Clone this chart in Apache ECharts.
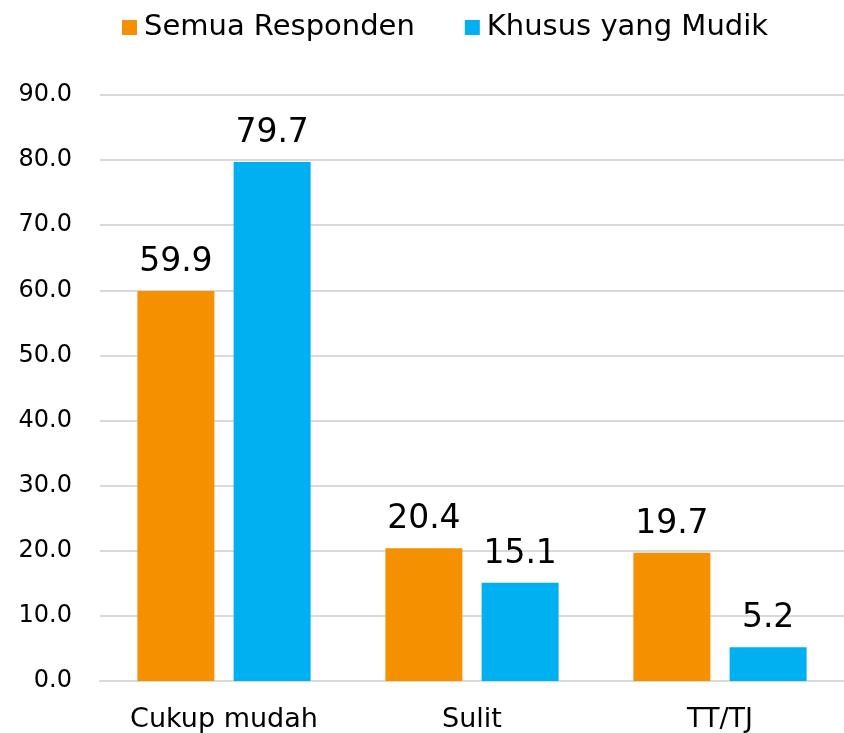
<!DOCTYPE html>
<html>
<head>
<meta charset="utf-8">
<script src="https://cdn.jsdelivr.net/npm/echarts@6/dist/echarts.min.js"></script>
<style>
  html, body { margin: 0; padding: 0; background: #fff; }
  #main { width: 844px; height: 733px; }
</style>
</head>
<body>
<div id="main"></div>
<script>
// data
var categories = ['Cukup mudah', 'Sulit', 'TT/TJ'];
var seriesNames = ['Semua Responden', 'Khusus yang Mudik'];
var semuaResponden = [59.9, 20.4, 19.7];
var khususMudik = [79.7, 15.1, 5.2];

var fontName = '"Century Gothic", "URW Gothic", "DejaVu Sans", sans-serif';

function showBar() {
	var myChart = echarts.init(document.getElementById('main'));
	var option = {
		animation: false,
		textStyle: { fontFamily: fontName },
		legend: {
			data: seriesNames,
			top: 8,
			left: 117,
			itemWidth: 15,
			itemHeight: 15,
			itemGap: 50,
			icon: 'rect',
			textStyle: {
				fontFamily: fontName,
				fontSize: 29,
				color: '#000',
				padding: [0, 0, 0, 2]
			}
		},
		grid: {
			left: 100,
			right: -6,
			top: 95,
			bottom: 52
		},
		xAxis: {
			type: 'category',
			data: categories,
			axisTick: { show: false },
			axisLine: { lineStyle: { color: '#d9d9d9', width: 2 } },
			axisLabel: {
				fontFamily: fontName,
				fontSize: 27,
				color: '#000',
				margin: 25
			}
		},
		yAxis: {
			type: 'value',
			min: 0,
			max: 90,
			interval: 10,
			axisLine: { show: false },
			axisTick: { show: false },
			splitLine: { lineStyle: { color: '#d9d9d9', width: 2 } },
			axisLabel: {
				fontFamily: fontName,
				fontSize: 24,
				color: '#000',
				margin: 28,
				formatter: function (v) { return v.toFixed(1); }
			}
		},
		series: [{
			name: seriesNames[0],
			type: 'bar',
			data: semuaResponden,
			barWidth: 77,
			barGap: '25%',
			itemStyle: { color: '#F59100' },
			label: {
				show: true,
				position: 'top',
				distance: 12,
				fontFamily: fontName,
				fontSize: 33,
				color: '#000',
				formatter: function (p) { return p.value.toFixed(1); }
			}
		}, {
			name: seriesNames[1],
			type: 'bar',
			data: khususMudik,
			barWidth: 77,
			barGap: '25%',
			itemStyle: { color: '#00B0F0' },
			label: {
				show: true,
				position: 'top',
				distance: 12,
				fontFamily: fontName,
				fontSize: 33,
				color: '#000',
				formatter: function (p) { return p.value.toFixed(1); }
			}
		}]
	};
	myChart.setOption(option);
}
showBar();
</script>
</body>
</html>
